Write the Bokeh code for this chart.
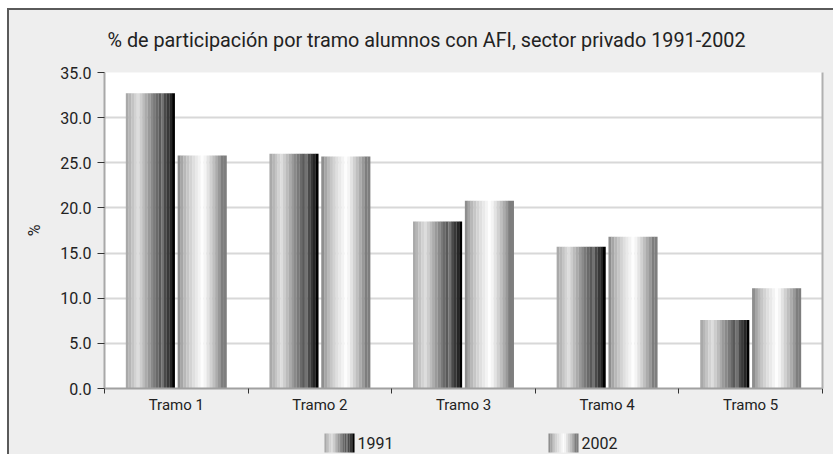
from bokeh.plotting import figure
from bokeh.layouts import column
from bokeh.models import FixedTicker, PrintfTickFormatter, LinearAxis
from bokeh.core.properties import value
from bokeh.embed import file_html
from bokeh.resources import INLINE

title_text = "% de participación por tramo alumnos con AFI, sector privado 1991-2002"
categories = ["Tramo 1", "Tramo 2", "Tramo 3", "Tramo 4", "Tramo 5"]
v1991 = [32.7, 26.0, 18.5, 15.7, 7.6]
v2002 = [25.8, 25.7, 20.8, 16.8, 11.1]
series_names = ["1991", "2002"]
y_ticks = [0, 5, 10, 15, 20, 25, 30, 35]

# stripe shades that imitate the cylinder-like gradient of each series
shades_1991 = ["#a9a9a9", "#b6b6b6", "#c4c4c4", "#d2d2d2", "#dddddd", "#cdcdcd", "#bcbcbc",
               "#ababab", "#9a9a9a", "#8a8a8a", "#7a7a7a", "#6a6a6a", "#5a5a5a", "#727272",
               "#4a4a4a", "#383838", "#262626", "#000000"]
shades_2002 = ["#8e8e8e", "#a6a6a6", "#b8b8b8", "#c6c6c6", "#d3d3d3", "#dfdfdf", "#e9e9e9",
               "#f3f3f3", "#fdfdfd", "#f4f4f4", "#e3e3e3", "#d1d1d1", "#bfbfbf", "#acacac",
               "#999999", "#7e7e7e", "#7e7e7e"]

FONT = "Roboto"
BG = "#eeeeee"
TXT = "#222222"
W = 824


def strip(height):
    f = figure(width=W, height=height, x_range=(0, W), y_range=(0, height),
               output_backend="svg", toolbar_location=None,
               min_border=0, min_border_left=0, min_border_right=0,
               min_border_top=0, min_border_bottom=0)
    f.frame_align = False
    f.axis.visible = False
    f.grid.visible = False
    f.outline_line_color = None
    f.background_fill_color = BG
    f.border_fill_color = BG
    return f


# title strip
TH = 50
head = strip(TH)
head.text(x=[98], y=[TH - 30], text=[title_text], text_font=value(FONT),
          text_font_size="19.8px", text_color=TXT, text_baseline="middle", text_align="left")

# main chart
p = figure(width=W, height=414 - TH, x_range=(0, 5), y_range=(0, 35),
           output_backend="svg", toolbar_location=None,
           min_border_left=95, min_border_right=11, min_border_top=62 - TH, min_border_bottom=36)
p.frame_align = False
p.border_fill_color = BG
p.background_fill_color = "#ffffff"
p.outline_line_color = None

xs = [i + 0.5 for i in range(len(categories))]
bar_w = 0.341
gap = 0.02
centers = [-(gap / 2 + bar_w / 2), gap / 2 + bar_w / 2]
for vals, shades, c in zip([v1991, v2002], [shades_1991, shades_2002], centers):
    n = len(shades)
    sw = bar_w / n
    for k, col in enumerate(shades):
        off = c - bar_w / 2 + (k + 0.5) * sw
        p.vbar(x=[x + off for x in xs], top=vals, bottom=0, width=sw * 1.05,
               fill_color=col, line_color=None)

# y axis
p.yaxis.ticker = FixedTicker(ticks=y_ticks)
p.yaxis.formatter = PrintfTickFormatter(format="%.1f")
p.yaxis.axis_line_color = "#a8a8a8"
p.yaxis.axis_line_width = 2
p.yaxis.major_tick_in = 0
p.yaxis.major_tick_out = 7
p.yaxis.major_tick_line_color = "#333333"
p.yaxis.minor_tick_line_color = None
p.yaxis.major_label_text_font = FONT
p.yaxis.major_label_text_font_size = "16px"
p.yaxis.major_label_text_color = TXT
p.yaxis.major_label_standoff = 6
p.yaxis.axis_label = "%"
p.yaxis.axis_label_text_font = FONT
p.yaxis.axis_label_text_font_size = "16px"
p.yaxis.axis_label_text_font_style = "normal"
p.yaxis.axis_label_text_color = TXT
p.yaxis.axis_label_standoff = 13

# x axis: labels at category centres, ticks at category boundaries
p.xaxis.ticker = FixedTicker(ticks=xs, minor_ticks=list(range(len(categories) + 1)))
p.xaxis.major_label_overrides = {x: c for x, c in zip(xs, categories)}
p.xaxis.axis_line_color = "#a0a0a0"
p.xaxis.axis_line_width = 2
p.xaxis.major_tick_in = 0
p.xaxis.major_tick_out = 0
p.xaxis.minor_tick_in = 0
p.xaxis.minor_tick_out = 5
p.xaxis.minor_tick_line_color = "#333333"
p.xaxis.major_label_text_font = FONT
p.xaxis.major_label_text_font_size = "15px"
p.xaxis.major_label_text_color = TXT
p.xaxis.major_label_standoff = 2

# grid
p.xgrid.grid_line_color = None
p.ygrid.ticker = FixedTicker(ticks=y_ticks[1:])
p.ygrid.grid_line_color = "#d8d8d8"
p.ygrid.grid_line_width = 2

# right frame line of the plot area
ra = LinearAxis(ticker=FixedTicker(ticks=[]), axis_line_color="#b0b0b0", axis_line_width=2,
                major_label_text_font_size="0px", major_tick_line_color=None,
                minor_tick_line_color=None, major_tick_out=0, major_label_standoff=0)
p.add_layout(ra, "right")

# legend strip below the chart (striped swatches like the bars)
LH = 30
leg = strip(LH)
swatch_left = [315, 539]
swatch_w = 30
for left, shades in zip(swatch_left, [shades_1991, shades_2002]):
    n = len(shades)
    sw = swatch_w / n
    leg.vbar(x=[left + (k + 0.5) * sw for k in range(n)], top=21, bottom=2,
             width=sw * 1.05, fill_color=shades, line_color=None)
leg.text(x=[l + swatch_w + 3 for l in swatch_left], y=[11.5, 11.5], text=series_names,
         text_font=value(FONT), text_font_size="16px", text_color=TXT,
         text_baseline="middle", text_align="left")

layout = column(head, p, leg, spacing=0,
                styles={"margin-left": "7px", "margin-top": "8px",
                        "border-left": "2px solid #5a5a5a", "border-top": "2px solid #5a5a5a",
                        "background-color": BG})

open("out.html", "w").write(file_html(layout, INLINE))
